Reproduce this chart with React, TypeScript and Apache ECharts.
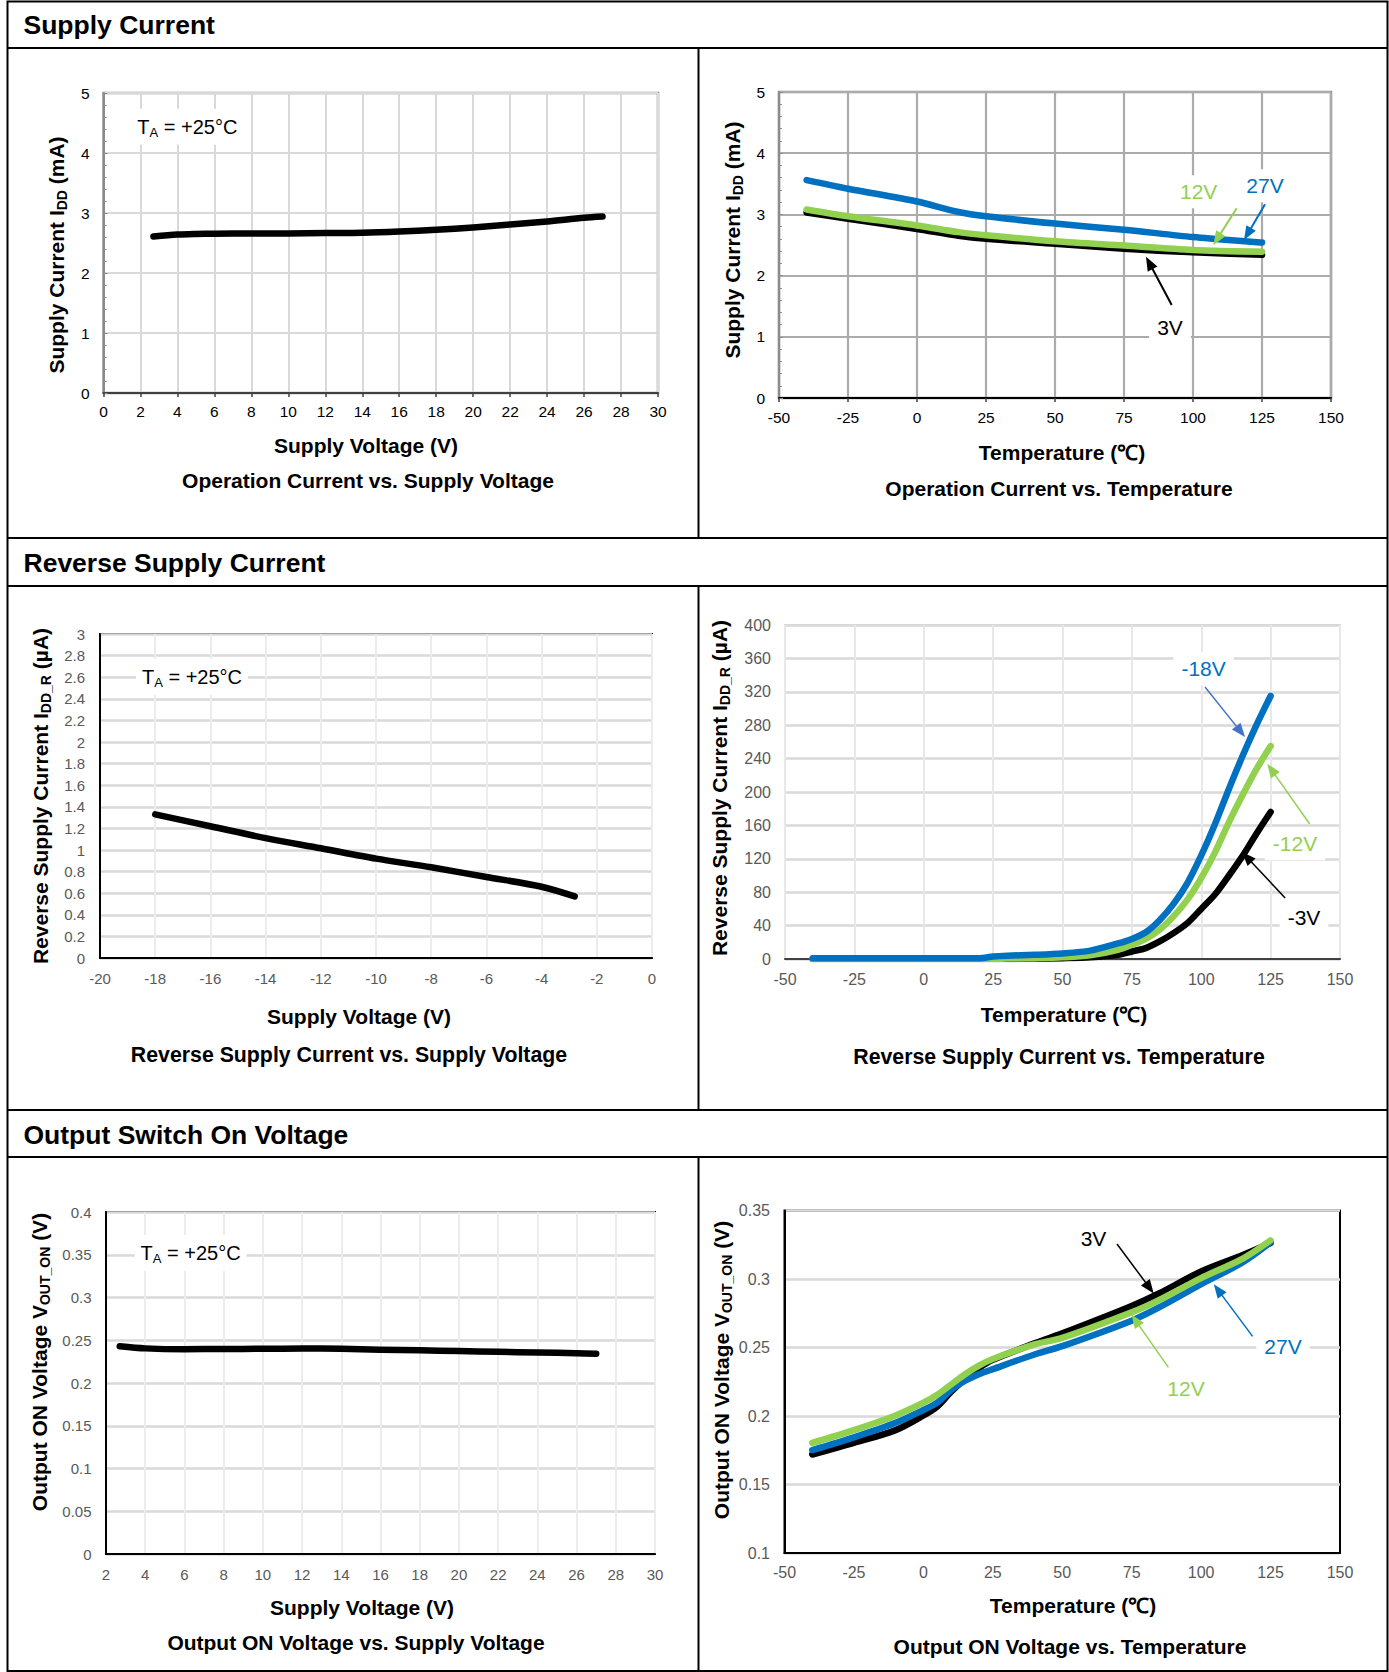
import React, { useEffect, useRef } from "react";
import * as echarts from "echarts";

const W = 1389;
const H = 1672;
const FONT = '"Liberation Sans", Arial, Helvetica, sans-serif';

// ---------- data ----------
// Chart 1: Operation Current vs. Supply Voltage
const c1Voltage = [2.7, 4, 5, 6, 8, 10, 12, 14, 16, 18, 20, 22, 24, 26, 27];
const c1Current = [2.61, 2.64, 2.65, 2.655, 2.66, 2.66, 2.665, 2.67, 2.69, 2.72, 2.76, 2.81, 2.86, 2.92, 2.94];

// Chart 2: Operation Current vs. Temperature
const c2Temp = [-40, -25, 0, 15, 25, 50, 75, 100, 125];
const c2I3V = [3.03, 2.93, 2.76, 2.65, 2.6, 2.52, 2.44, 2.38, 2.34];
const c2I12V = [3.08, 2.97, 2.82, 2.71, 2.66, 2.56, 2.49, 2.42, 2.39];
const c2I27V = [3.56, 3.42, 3.21, 3.04, 2.97, 2.85, 2.75, 2.63, 2.54];

// Chart 3: Reverse Supply Current vs. Supply Voltage
const c3Voltage = [-18, -16, -14, -12, -10, -8, -6, -4, -2.8];
const c3Current = [1.33, 1.22, 1.11, 1.016, 0.92, 0.84, 0.75, 0.66, 0.57];

// Chart 4: Reverse Supply Current vs. Temperature
const c4Temp = [-40, -25, 0, 20, 25, 30, 40, 50, 60, 70, 75, 80, 85, 90, 95, 100, 105, 110, 115, 120, 125];
const c4Im3V = [0, 0, 0, 0, 0, 0, 0.5, 1, 2, 5, 9, 13, 21, 31, 43, 60, 77.5, 100, 124, 150.6, 176];
const c4Im12V = [0, 0, 0, 0, 0, 0.5, 1, 2, 4.4, 11, 17, 24, 35, 51, 71, 97, 128, 164, 197, 228, 255];
const c4Im18V = [1, 1, 1, 1, 3, 4, 5, 6.6, 10, 18.6, 24, 32, 46.5, 66, 91, 124, 162, 204, 244, 281, 315];

// Chart 5: Output ON Voltage vs. Supply Voltage
const c5Voltage = [2.7, 4, 6, 8, 10, 12, 14, 16, 18, 20, 22, 24, 26, 27];
const c5Von = [0.243, 0.2405, 0.2395, 0.2398, 0.24, 0.2403, 0.24, 0.239, 0.2382, 0.2374, 0.2365, 0.2357, 0.2348, 0.2343];

// Chart 6: Output ON Voltage vs. Temperature
const c6Temp = [-40, -25, -10, 0, 5, 10, 15, 20, 25, 40, 50, 75, 85, 100, 115, 125];
const c6V3V = [0.1719, 0.1804, 0.1897, 0.2004, 0.207, 0.2177, 0.227, 0.235, 0.241, 0.253, 0.2603, 0.2803, 0.2896, 0.3055, 0.3175, 0.3263];
const c6V12V = [0.1804, 0.1897, 0.2004, 0.2097, 0.2155, 0.223, 0.2305, 0.2368, 0.2416, 0.2523, 0.257, 0.2757, 0.2848, 0.3007, 0.3149, 0.3282];
const c6V27V = [0.1751, 0.1844, 0.195, 0.2044, 0.2097, 0.219, 0.2257, 0.2305, 0.2342, 0.2449, 0.251, 0.2696, 0.2794, 0.2962, 0.3122, 0.3268];

const BLUE = "#0070C0";
const GREEN = "#92D050";
const BLACK = "#000000";

const zip = (xs: number[], ys: number[]) => xs.map((x, i) => [x, ys[i]]);
const fmt = (v: number) => String(parseFloat(Number(v).toFixed(3)));

function arrow(x1: number, y1: number, x2: number, y2: number, color: string, lw = 2, hl = 14, hw = 11) {
  const dx = x2 - x1, dy = y2 - y1;
  const L = Math.hypot(dx, dy);
  const ux = dx / L, uy = dy / L;
  const bx = x2 - ux * hl, by = y2 - uy * hl;
  const px = -uy, py = ux;
  return [
    { type: "line", z: 100, shape: { x1, y1, x2: bx + ux * 2, y2: by + uy * 2 }, style: { stroke: color, lineWidth: lw } },
    {
      type: "polygon", z: 100,
      shape: { points: [[x2, y2], [bx + (px * hw) / 2, by + (py * hw) / 2], [bx - (px * hw) / 2, by - (py * hw) / 2]] },
      style: { fill: color },
    },
  ];
}

const richY = {
  b: { fontSize: 21, fontWeight: "bold", fontFamily: FONT, fill: "#000", lineHeight: 26, verticalAlign: "middle" },
  s: { fontSize: 14, fontWeight: "bold", fontFamily: FONT, fill: "#000", lineHeight: 14, verticalAlign: "bottom" },
};
const richTA = {
  t: { fontSize: 20, fontFamily: FONT, fill: "#000", lineHeight: 24, verticalAlign: "middle" },
  s: { fontSize: 13, fontFamily: FONT, fill: "#000", lineHeight: 13, verticalAlign: "bottom" },
};

function yTitle(x: number, y: number, main: string, sub: string, tail: string) {
  return {
    type: "text", z: 100, x, y, rotation: Math.PI / 2,
    style: { text: `{b|${main}}{s|${sub}}{b|${tail}}`, rich: richY, align: "center", verticalAlign: "middle" },
  };
}
function boldText(x: number, y: number, text: string, size = 21, align = "center") {
  return {
    type: "text", z: 100, x, y,
    style: { text, fontSize: size, fontWeight: "bold", fontFamily: FONT, fill: "#000", align, verticalAlign: "middle" },
  };
}
function taLabel(x: number, y: number) {
  return {
    type: "text", z: 100, x: x - 6, y,
    style: {
      text: "{t|T}{s|A}{t| = +25°C}", rich: richTA, align: "left", verticalAlign: "middle",
      backgroundColor: "#fff", padding: [6, 6, 6, 6],
    },
  };
}
function note(x: number, y: number, text: string, color: string, bg = false) {
  const s: any = { text, fontSize: 21, fontFamily: FONT, fill: color, align: "center", verticalAlign: "middle" };
  if (bg) {
    s.backgroundColor = "#fff";
    s.padding = [6, 8, 6, 8];
  }
  return { type: "text", z: 100, x, y, style: s };
}

function hline(y: number, x1 = 7.5, x2 = 1387.5) {
  return { type: "line", z: 100, shape: { x1, y1: y, x2, y2: y }, style: { stroke: "#000", lineWidth: 2 } };
}
function vline(x: number, y1: number, y2: number) {
  return { type: "line", z: 100, shape: { x1: x, y1, x2: x, y2 }, style: { stroke: "#000", lineWidth: 2 } };
}

export default function App() {
  const ref = useRef<HTMLDivElement>(null);

  useEffect(() => {
    if (!ref.current) return;
    const chart = echarts.init(ref.current, undefined, { renderer: "svg", width: W, height: H });

    const grids = [
      { left: 103.5, top: 93, width: 554.5, height: 300, show: true, borderColor: "#8c8c8c", borderWidth: 2.5 },
      { left: 779, top: 92, width: 552, height: 306, show: true, borderColor: "#8c8c8c", borderWidth: 2.5 },
      { left: 100, top: 634, width: 552, height: 324, show: true, borderColor: "#000", borderWidth: 2 },
      { left: 785, top: 625, width: 555, height: 334, show: true, borderColor: "#d9d9d9", borderWidth: 2 },
      { left: 106, top: 1212, width: 549, height: 342, show: true, borderColor: "#000", borderWidth: 2 },
      { left: 784.5, top: 1210.5, width: 555.5, height: 342.5, show: true, borderColor: "#000", borderWidth: 2 },
    ];

    const lbl = (margin: number, color: string, size: number) => ({
      margin, color, fontSize: size, fontFamily: FONT, formatter: fmt,
    });

    const xAxis: any[] = [
      {
        gridIndex: 0, type: "value", min: 0, max: 30, interval: 2,
        axisLine: { show: true, onZero: false, lineStyle: { color: "#404040", width: 2 } },
        axisTick: { show: true, length: 4, lineStyle: { color: "#404040", width: 1.5 } },
        axisLabel: lbl(10, "#000", 15.5),
        splitLine: { show: true, lineStyle: { color: "#d9d9d9", width: 2 } },
      },
      {
        gridIndex: 1, type: "value", min: -50, max: 150, interval: 25,
        axisLine: { show: true, onZero: false, lineStyle: { color: "#000", width: 2 } },
        axisTick: { show: true, length: 4, lineStyle: { color: "#404040", width: 1.5 } },
        axisLabel: lbl(11, "#000", 15.5),
        splitLine: { show: true, lineStyle: { color: "#ababab", width: 2.2 } },
      },
      {
        gridIndex: 2, type: "value", min: -20, max: 0, interval: 2,
        axisLine: { show: true, onZero: false, lineStyle: { color: "#000", width: 2 } },
        axisTick: { show: false },
        axisLabel: lbl(13, "#595959", 15),
        splitLine: { show: true, lineStyle: { color: "#ececec", width: 2 } },
      },
      {
        gridIndex: 3, type: "value", min: -50, max: 150, interval: 25,
        axisLine: { show: true, onZero: false, lineStyle: { color: "#404040", width: 2 } },
        axisTick: { show: false },
        axisLabel: lbl(12, "#595959", 16),
        splitLine: { show: true, lineStyle: { color: "#e8e8e8", width: 2 } },
      },
      {
        gridIndex: 4, type: "value", min: 2, max: 30, interval: 2,
        axisLine: { show: true, onZero: false, lineStyle: { color: "#000", width: 2 } },
        axisTick: { show: false },
        axisLabel: lbl(13, "#595959", 15),
        splitLine: { show: true, lineStyle: { color: "#ececec", width: 2 } },
      },
      {
        gridIndex: 5, type: "value", min: -50, max: 150, interval: 25,
        axisLine: { show: true, onZero: false, lineStyle: { color: "#000", width: 2 } },
        axisTick: { show: false },
        axisLabel: lbl(11, "#595959", 16),
        splitLine: { show: false },
      },
    ];

    const yAxis: any[] = [
      {
        gridIndex: 0, type: "value", min: 0, max: 5, interval: 1,
        axisLine: { show: true, onZero: false, lineStyle: { color: "#8c8c8c", width: 2 } },
        axisTick: { show: true, inside: true, length: 4, lineStyle: { color: "#8c8c8c" } },
        minorTick: { show: true, splitNumber: 5, length: 3, lineStyle: { color: "#8c8c8c" } },
        axisLabel: lbl(14, "#000", 15.5),
        splitLine: { show: true, lineStyle: { color: "#d9d9d9", width: 2 } },
      },
      {
        gridIndex: 1, type: "value", min: 0, max: 5, interval: 1,
        axisLine: { show: true, onZero: false, lineStyle: { color: "#8c8c8c", width: 2 } },
        axisTick: { show: true, inside: true, length: 4, lineStyle: { color: "#8c8c8c" } },
        minorTick: { show: true, splitNumber: 5, length: 3, lineStyle: { color: "#8c8c8c" } },
        axisLabel: lbl(14, "#000", 15.5),
        splitLine: { show: true, lineStyle: { color: "#ababab", width: 2.2 } },
      },
      {
        gridIndex: 2, type: "value", min: 0, max: 3, interval: 0.2,
        axisLine: { show: true, onZero: false, lineStyle: { color: "#000", width: 2 } },
        axisTick: { show: false },
        axisLabel: lbl(15, "#595959", 15),
        splitLine: { show: true, lineStyle: { color: "#d9d9d9", width: 2.5 } },
      },
      {
        gridIndex: 3, type: "value", min: 0, max: 400, interval: 40,
        axisLine: { show: false, onZero: false },
        axisTick: { show: false },
        axisLabel: lbl(14, "#595959", 16),
        splitLine: { show: true, lineStyle: { color: "#d9d9d9", width: 2.5 } },
      },
      {
        gridIndex: 4, type: "value", min: 0, max: 0.4, interval: 0.05,
        axisLine: { show: true, onZero: false, lineStyle: { color: "#000", width: 2 } },
        axisTick: { show: false },
        axisLabel: lbl(14.5, "#595959", 15),
        splitLine: { show: true, lineStyle: { color: "#d9d9d9", width: 2.5 } },
      },
      {
        gridIndex: 5, type: "value", min: 0.1, max: 0.35, interval: 0.05,
        axisLine: { show: true, onZero: false, lineStyle: { color: "#000", width: 2 } },
        axisTick: { show: false },
        axisLabel: lbl(14.5, "#595959", 16),
        splitLine: { show: true, lineStyle: { color: "#d9d9d9", width: 2.5 } },
      },
    ];

    const line = (name: string, idx: number, xs: number[], ys: number[], color: string, width = 6.5, z = 3) => ({
      name, type: "line", xAxisIndex: idx, yAxisIndex: idx, data: zip(xs, ys),
      showSymbol: false, symbol: "none", smooth: 0.3, z,
      lineStyle: { color, width, cap: "round", join: "round" }, itemStyle: { color },
    });

    const series = [
      line("IDD 25°C", 0, c1Voltage, c1Current, BLACK),
      line("3V", 1, c2Temp, c2I3V, BLACK, 6.5, 3),
      line("12V", 1, c2Temp, c2I12V, GREEN, 6.5, 4),
      line("27V", 1, c2Temp, c2I27V, BLUE, 6.5, 5),
      line("IDD_R 25°C", 2, c3Voltage, c3Current, BLACK),
      line("-3V", 3, c4Temp, c4Im3V, BLACK, 6.5, 3),
      line("-12V", 3, c4Temp, c4Im12V, GREEN, 6.5, 4),
      line("-18V", 3, c4Temp, c4Im18V, BLUE, 6.5, 5),
      line("VOUT_ON 25°C", 4, c5Voltage, c5Von, BLACK),
      line("3V ", 5, c6Temp, c6V3V, BLACK, 6.5, 3),
      line("27V ", 5, c6Temp, c6V27V, BLUE, 6.5, 4),
      line("12V ", 5, c6Temp, c6V12V, GREEN, 6.5, 5),
    ];

    const graphic: any[] = [
      // frame
      { type: "rect", z: 100, shape: { x: 7.5, y: 1.5, width: 1380, height: 1669.5 }, style: { fill: "none", stroke: "#000", lineWidth: 2 } },
      hline(48), hline(538), hline(586), hline(1110), hline(1157),
      vline(698.5, 48, 538), vline(698.5, 586, 1110), vline(698.5, 1157, 1671),
      // section titles
      boldText(23.5, 25, "Supply Current", 26.5, "left"),
      boldText(23.5, 563, "Reverse Supply Current", 26.5, "left"),
      boldText(23.5, 1134.5, "Output Switch On Voltage", 26.5, "left"),
      // chart 1
      yTitle(56, 255, "Supply Current I", "DD", " (mA)"),
      boldText(366, 445, "Supply Voltage (V)"),
      boldText(368, 480, "Operation Current vs. Supply Voltage"),
      taLabel(137.3, 126.7),
      // chart 2
      yTitle(732, 240, "Supply Current I", "DD", " (mA)"),
      boldText(1062, 452, "Temperature (℃)"),
      boldText(1059, 488, "Operation Current vs. Temperature"),
      note(1198.7, 191.7, "12V", GREEN, true),
      note(1265, 185.7, "27V", BLUE, true),
      note(1170, 327, "3V", BLACK, true),
      ...arrow(1236.7, 208.3, 1213.3, 245, GREEN),
      ...arrow(1265, 204.3, 1244, 240, BLUE),
      ...arrow(1171.7, 305, 1146, 256.7, BLACK),
      // chart 3
      yTitle(40, 796, "Reverse Supply Current I", "DD_R", " (µA)"),
      boldText(359, 1016, "Supply Voltage (V)"),
      boldText(349, 1055, "Reverse Supply Current vs. Supply Voltage", 21.3),
      taLabel(142, 677),
      // chart 4
      yTitle(719, 788, "Reverse Supply Current I", "DD_R", " (µA)"),
      boldText(1064, 1014, "Temperature (℃)"),
      boldText(1059, 1057, "Reverse Supply Current vs. Temperature", 21.3),
      note(1203.6, 668.7, "-18V", BLUE, true),
      note(1295, 843.7, "-12V", GREEN, true),
      note(1304, 917.7, "-3V", BLACK, true),
      ...arrow(1205, 687, 1245, 737, "#4472C4", 1.5),
      ...arrow(1309.7, 824, 1267.3, 763.8, GREEN, 1.5),
      ...arrow(1285.2, 898, 1242, 852, BLACK, 1.5),
      // chart 5
      yTitle(39, 1362, "Output ON Voltage V", "OUT_ON", " (V)"),
      boldText(362, 1607, "Supply Voltage (V)"),
      boldText(356, 1642.5, "Output ON Voltage vs. Supply Voltage"),
      taLabel(140.6, 1253),
      // chart 6
      yTitle(721, 1370, "Output ON Voltage V", "OUT_ON", " (V)"),
      boldText(1073, 1605, "Temperature (℃)"),
      boldText(1070, 1646, "Output ON Voltage vs. Temperature"),
      note(1093.5, 1238, "3V", BLACK),
      note(1283, 1346, "27V", BLUE, true),
      note(1186, 1388, "12V", GREEN),
      ...arrow(1117, 1244, 1153.7, 1293.4, BLACK, 1.5),
      ...arrow(1252.6, 1336.4, 1213.8, 1284.2, BLUE, 1.5),
      ...arrow(1168.4, 1367.4, 1131.4, 1314.5, GREEN, 1.5),
    ];

    chart.setOption({
      animation: false,
      backgroundColor: "#ffffff",
      textStyle: { fontFamily: FONT },
      grid: grids,
      xAxis,
      yAxis,
      series,
      graphic,
    });

    return () => chart.dispose();
  }, []);

  return (
    <div
      ref={ref}
      style={{ position: "absolute", left: 0, top: 0, width: W, height: H, background: "#fff" }}
    />
  );
}
